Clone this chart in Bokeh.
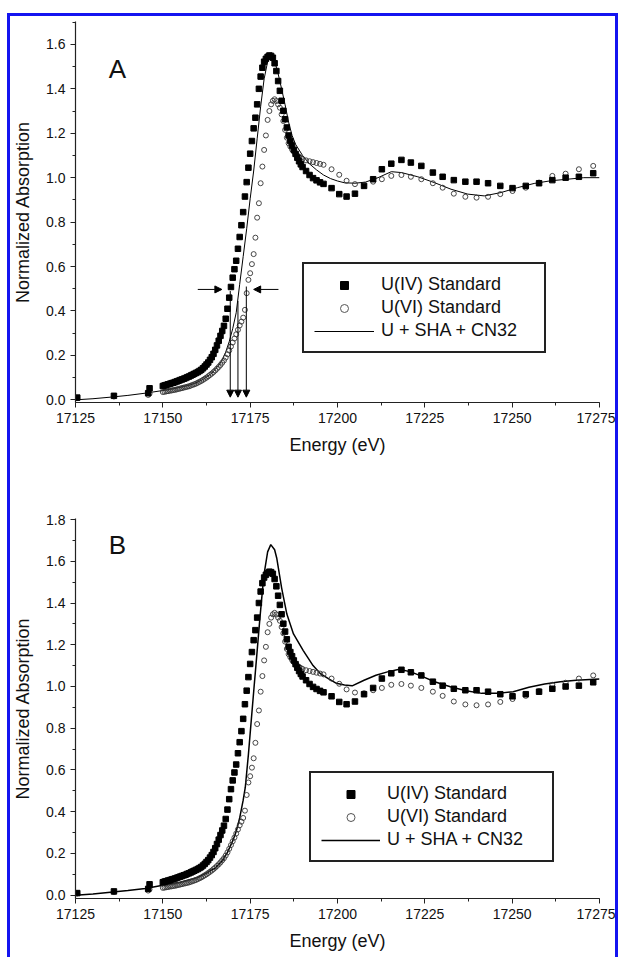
from bokeh.plotting import figure
from bokeh.models import (Range1d, SingleIntervalTicker, PrintfTickFormatter, Legend,
                          LegendItem, Arrow, NormalHead, ColumnDataSource, Label)
from bokeh.layouts import column
from bokeh.embed import file_html
from bokeh.resources import INLINE

NaN = float("nan")

# ---------------- data ----------------
energy_std = [17125.5, 17136.0, 17145.8, 17146.2,
              17150, 17150.5, 17151, 17151.5, 17152, 17152.5, 17153, 17153.5, 17154, 17154.5,
              17155, 17155.5, 17156, 17156.5, 17157, 17157.5, 17158, 17158.5, 17159, 17159.5,
              17160, 17160.5, 17161, 17161.5, 17162, 17162.5, 17163, 17163.5, 17164, 17164.5,
              17165,
              17165.5, 17166, 17166.5, 17167, 17167.5, 17168, 17168.5, 17169, 17169.5, 17170,
              17170.5, 17171, 17171.5, 17172, 17172.5, 17173, 17173.5, 17174, 17174.5, 17175,
              17175.5, 17176, 17176.5, 17177, 17177.5, 17178, 17178.5, 17179, 17179.5, 17180,
              17180.5, 17181, 17181.5, 17182, 17182.5, 17183, 17183.5, 17184, 17184.5, 17185,
              17185.5, 17186, 17186.5, 17187, 17187.5, 17188, 17188.5, 17189, 17189.5, 17190,
              17191, 17192, 17193, 17194, 17195, 17196,
              17198.3, 17200.5, 17202.6, 17205.0, 17207.6, 17210.2, 17212.7, 17215.4, 17218.3, 17221.0,
              17224.0, 17227.3, 17230.1, 17233.3, 17236.6, 17239.8, 17243.1, 17246.6, 17250.1, 17253.9,
              17257.7, 17261.5, 17265.3, 17269.1, 17273.2]

u4_standard = [0.010, 0.018, 0.030, 0.052,
               0.062, 0.065, 0.067, 0.070, 0.072, 0.075, 0.077, 0.080, 0.083, 0.086,
               0.089, 0.092, 0.095, 0.098, 0.102, 0.105, 0.109, 0.113, 0.117, 0.121,
               0.125, 0.130, 0.135, 0.142, 0.150, 0.159, 0.168, 0.180, 0.192, 0.207,
               0.225,
               0.245, 0.266, 0.288, 0.310, 0.333, 0.365, 0.410, 0.460, 0.508, 0.550,
               0.588, 0.626, 0.680, 0.733, 0.786, 0.845, 0.915, 0.980, 1.045, 1.108,
               1.165, 1.222, 1.270, 1.330, 1.400, 1.455, 1.495, 1.522, 1.535, 1.544,
               1.550, 1.548, 1.540, 1.515, 1.480, 1.435, 1.391, 1.346, 1.301, 1.263,
               1.226, 1.190, 1.165, 1.145, 1.125, 1.107, 1.090, 1.074, 1.060, 1.048,
               1.030, 1.012, 0.998, 0.988, 0.979, 0.972,
               0.953, 0.926, 0.915, 0.928, 0.963, 0.993, 1.038, 1.063, 1.080, 1.068,
               1.053, 1.023, 1.004, 0.989, 0.982, 0.982, 0.975, 0.963, 0.953, 0.963,
               0.975, 0.989, 1.000, 1.004, 1.020]

u6_standard = [0.008, 0.015, 0.022, 0.028,
               0.035, 0.036, 0.038, 0.039, 0.041, 0.042, 0.044, 0.045, 0.047, 0.049,
               0.051, 0.053, 0.055, 0.057, 0.059, 0.061, 0.064, 0.067, 0.070, 0.073,
               0.077, 0.081, 0.085, 0.090, 0.095, 0.100, 0.106, 0.112, 0.118, 0.125,
               0.132,
               0.140, 0.148, 0.157, 0.167, 0.177, 0.190, 0.205, 0.222, 0.240, 0.258,
               0.276, 0.295, 0.315, 0.335, 0.352, 0.370, 0.405, 0.480, 0.540, 0.570,
               0.611, 0.656, 0.730, 0.820, 0.885, 0.975, 1.050, 1.125, 1.190, 1.260,
               1.300, 1.330, 1.346, 1.353, 1.345, 1.330, 1.315, 1.285, 1.255, 1.215,
               1.180, 1.155, 1.140, 1.127, 1.117, 1.108, 1.100, 1.094, 1.088, 1.084,
               1.078, 1.074, 1.070, 1.066, 1.062, 1.058,
               1.038, 1.013, 0.986, 0.971, 0.968, 0.982, 0.993, 1.008, 1.012, 1.004,
               0.993, 0.975, 0.955, 0.928, 0.914, 0.910, 0.914, 0.926, 0.940, 0.955,
               0.978, 1.008, 1.018, 1.038, 1.053]

energy_mix_a = [17125, 17130, 17135, 17140, 17145, 17150, 17153, 17156, 17158, 17160,
                17162, 17164, 17166, 17167, 17168, 17169, 17170, 17171, 17172, 17173,
                17174, 17175, 17176, 17177, 17178, 17179, 17180, 17181, 17182, 17183,
                17184, 17185, 17186, 17187, 17188, 17190, 17192, 17194, 17196, 17198,
                17200, 17202, 17205, 17208, 17211.6, 17215.4, 17218.3, 17223, 17227.7, 17232.5,
                17237.3, 17242, 17246.8, 17251.5, 17256.3, 17261, 17265.8, 17270.5, 17275]
mix_a = [0.000, 0.005, 0.012, 0.020, 0.030, 0.042, 0.050, 0.060, 0.068, 0.080,
         0.097, 0.120, 0.155, 0.180, 0.215, 0.262, 0.320, 0.392, 0.520, 0.645,
         0.770, 0.905, 1.030, 1.175, 1.320, 1.445, 1.522, 1.548, 1.525, 1.468,
         1.400, 1.328, 1.250, 1.190, 1.150, 1.100, 1.062, 1.035, 1.012, 0.996,
         0.985, 0.977, 0.975, 0.980, 1.000, 1.027, 1.023, 1.004, 0.978, 0.948,
         0.926, 0.918, 0.933, 0.955, 0.974, 0.986, 0.993, 1.000, 1.000]

energy_mix_b = [17125, 17130, 17135, 17140, 17145, 17150, 17155, 17160, 17163, 17165,
                17167, 17168.5, 17170, 17171, 17172, 17173, 17173.6, 17174.5, 17175.3, 17176.1,
                17176.9, 17177.8, 17178.9, 17180, 17180.9, 17182, 17182.6, 17184, 17185.5, 17187.4,
                17190.2, 17193, 17195.2, 17197.5, 17199.7, 17202, 17204.2, 17207.6, 17211, 17214.3,
                17217.7, 17221, 17224.4, 17227.8, 17232.3, 17236.8, 17241.3, 17245.8, 17250.3, 17254.8,
                17259.3, 17263.8, 17268.3, 17275]
mix_b = [0.000, 0.006, 0.014, 0.022, 0.032, 0.048, 0.062, 0.085, 0.110, 0.130,
         0.165, 0.205, 0.260, 0.305, 0.370, 0.455, 0.516, 0.675, 0.835, 0.994,
         1.150, 1.330, 1.530, 1.645, 1.680, 1.655, 1.616, 1.473, 1.347, 1.252,
         1.172, 1.100, 1.060, 1.036, 1.015, 1.007, 1.003, 1.030, 1.054, 1.070,
         1.083, 1.070, 1.047, 1.023, 0.999, 0.980, 0.967, 0.967, 0.975, 0.996,
         1.012, 1.023, 1.030, 1.036]

# edge-position markers of panel A (energy, top of vertical arrow)
edge_energy = [17169.3, 17171.5, 17173.9]
edge_top = [0.49, 0.445, 0.51]
edge_bottom = [0.012, 0.012, 0.012]
half_height = 0.497
bracket_left = [17160.0, 17166.9]
bracket_right = [17183.1, 17176.0]

legend_labels = ["U(IV) Standard", "U(VI) Standard", "U + SHA + CN32"]
x_label = "Energy (eV)"
y_label = "Normalized Absorption"

FONT = "Liberation Sans"
BLUE = "#1414f0"


def style_axes(p):
    p.xgrid.visible = False
    p.ygrid.visible = False
    p.xaxis.ticker = SingleIntervalTicker(interval=25, num_minor_ticks=2)
    p.yaxis.ticker = SingleIntervalTicker(interval=0.2, num_minor_ticks=2)
    p.xaxis.formatter = PrintfTickFormatter(format="%d")
    p.yaxis.formatter = PrintfTickFormatter(format="%.1f")
    for ax in (p.xaxis[0], p.yaxis[0]):
        ax.axis_line_color = "#222222"
        ax.axis_line_width = 1.2
        ax.major_tick_out = 5
        ax.major_tick_in = 0
        ax.minor_tick_out = 3
        ax.minor_tick_in = 0
        ax.major_tick_line_color = "#222222"
        ax.minor_tick_line_color = "#222222"
        ax.major_label_text_font = FONT
        ax.major_label_text_font_size = "14px"
        ax.major_label_text_color = "#111111"
        ax.major_label_standoff = 5
        ax.axis_label_text_font = FONT
        ax.axis_label_text_font_size = "18px"
        ax.axis_label_text_font_style = "normal"
        ax.axis_label_text_color = "#111111"
    p.xaxis.axis_label = x_label
    p.yaxis.axis_label = y_label
    p.xaxis.axis_label_standoff = 9
    p.yaxis.axis_label_standoff = 10


def make_panel(height, y_end, y_start, top, bottom, mix_x, mix_y, mix_width, letter, letter_y,
               legend_loc, label_width, glyph_width):
    p = figure(width=605, height=height, x_range=Range1d(17125, 17275),
               y_range=Range1d(y_start, y_end), output_backend="svg", toolbar_location=None,
               min_border_left=63, min_border_right=16, min_border_top=top,
               min_border_bottom=bottom, outline_line_color=None,
               background_fill_color="white", border_fill_color="white")
    style_axes(p)

    p.line(mix_x, mix_y, line_color="black", line_width=mix_width)
    p.scatter(energy_std, u6_standard, marker="circle", size=5, fill_color=None,
              line_color="#333333", line_width=0.9)
    p.scatter(energy_std, u4_standard, marker="square", size=5.5, fill_color="black",
              line_color="black")

    # legend-only renderers (larger symbols, as in the original key); NaN -> not drawn in plot
    r4 = p.scatter([NaN], [NaN], marker="square", size=8, fill_color="black", line_color="black")
    r6 = p.scatter([NaN], [NaN], marker="circle", size=7, fill_color=None, line_color="#555555",
                   line_width=1)
    rm = p.line([NaN, NaN], [NaN, NaN], line_color="black", line_width=mix_width)
    legend = Legend(items=[LegendItem(label=legend_labels[0], renderers=[r4]),
                           LegendItem(label=legend_labels[1], renderers=[r6]),
                           LegendItem(label=legend_labels[2], renderers=[rm])],
                    location=legend_loc, orientation="vertical",
                    border_line_color="#222222", border_line_width=2, border_line_alpha=1,
                    background_fill_color="white", background_fill_alpha=1,
                    padding=10, spacing=2, margin=0,
                    glyph_width=glyph_width, glyph_height=20, label_height=20,
                    label_width=label_width, label_standoff=7,
                    label_text_font=FONT, label_text_font_size="18px",
                    label_text_color="#111111")
    p.add_layout(legend)

    p.add_layout(Label(x=17137.0, y=letter_y, text=letter, text_font=FONT,
                       text_font_size="26px", text_align="center", text_baseline="middle",
                       text_color="#111111"))
    return p


pA = make_panel(462, 1.703, -0.012, 5, 76, energy_mix_a, mix_a, 1.0, "A", 1.49,
                (227, 49), 153, 60)
pB = make_panel(479, 1.805, -0.016, 40, 59, energy_mix_b, mix_b, 1.5, "B", 1.68,
                (234, 36), 155, 59)

# arrows marking the edge positions in panel A
vert = ColumnDataSource(data=dict(x0=edge_energy, y0=edge_top, x1=edge_energy, y1=edge_bottom))
pA.add_layout(Arrow(end=NormalHead(size=7, fill_color="black", line_color="black"),
                    x_start="x0", y_start="y0", x_end="x1", y_end="y1", source=vert,
                    line_color="black", line_width=1))
horiz = ColumnDataSource(data=dict(x0=[bracket_left[0], bracket_right[0]],
                                   x1=[bracket_left[1], bracket_right[1]],
                                   y0=[half_height, half_height], y1=[half_height, half_height]))
pA.add_layout(Arrow(end=NormalHead(size=7, fill_color="black", line_color="black"),
                    x_start="x0", y_start="y0", x_end="x1", y_end="y1", source=horiz,
                    line_color="black", line_width=1))

layout = column(pA, pB, spacing=0, margin=(13, 0, 0, 7),
                styles={"border-top": "3px solid " + BLUE, "border-left": "3px solid " + BLUE,
                        "border-right": "3px solid " + BLUE})

open("out.html", "w").write(file_html(layout, INLINE))
